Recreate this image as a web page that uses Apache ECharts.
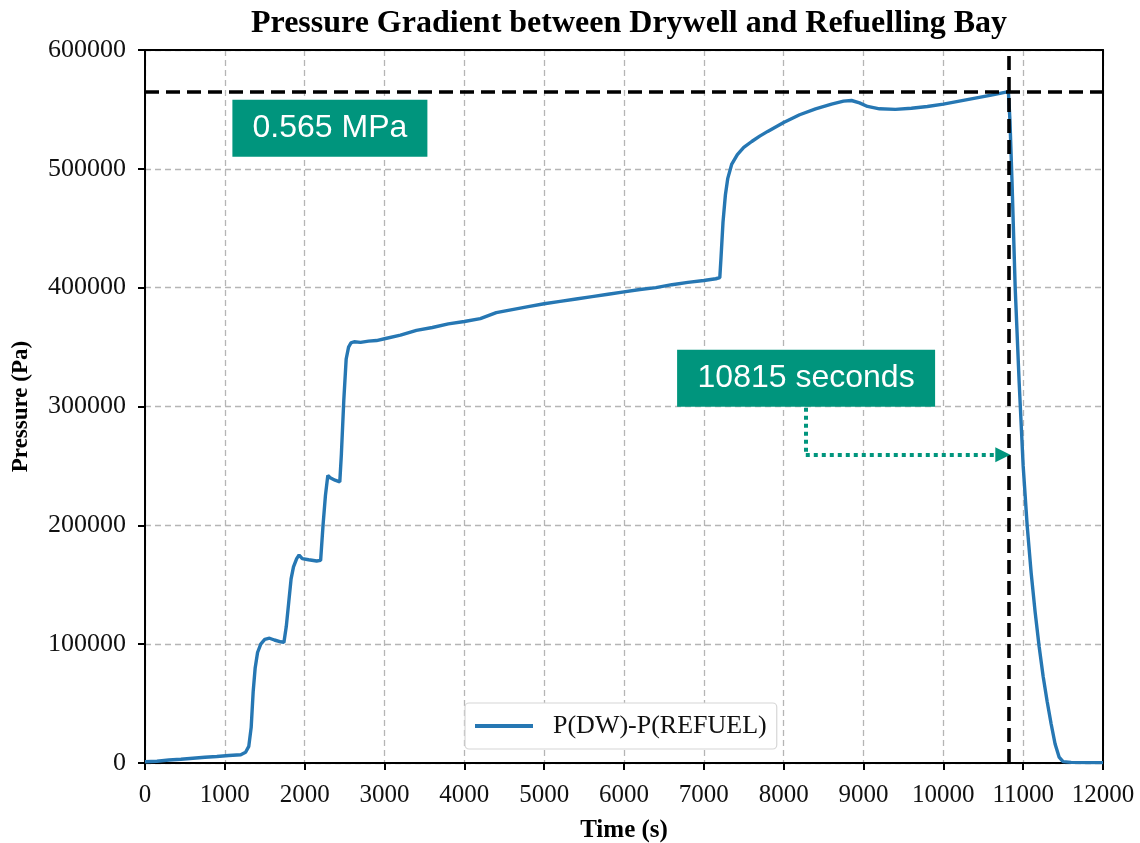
<!DOCTYPE html>
<html>
<head>
<meta charset="utf-8">
<title>Pressure Gradient between Drywell and Refuelling Bay</title>
<script src="https://cdn.jsdelivr.net/npm/echarts@6/dist/echarts.min.js"></script>
<style>
  html, body { margin: 0; padding: 0; background: #fff; }
  #chart { width: 1140px; height: 843px; }
</style>
</head>
<body>
<div id="chart"></div>
<script>
// Time (s) of each sample of the drywell / refuelling bay pressure difference
const timeSec = [
  0, 150, 300, 450, 600, 750, 900, 1050, 1200, 1260, 1300, 1330, 1355, 1380, 1410,
  1450, 1500, 1560, 1620, 1700, 1740, 1770, 1800, 1830, 1860, 1900, 1930, 1970,
  2050, 2150, 2200, 2230, 2260, 2290, 2320, 2380, 2440, 2460, 2490, 2520, 2550,
  2580, 2620, 2700, 2800, 2900, 3000, 3200, 3400, 3600, 3800, 4000, 4200, 4400,
  4600, 4800, 5000, 5200, 5400, 5600, 5800, 6000, 6200, 6400, 6600, 6800, 7000,
  7150, 7200, 7215, 7240, 7270, 7300, 7350, 7420, 7500, 7600, 7700, 7800, 8000,
  8200, 8400, 8600, 8750, 8850, 8950, 9050, 9200, 9400, 9600, 9800, 10000, 10200,
  10400, 10600, 10815, 10835, 10860, 10900, 10950, 11000, 11050, 11100, 11150,
  11200, 11250, 11300, 11350, 11400, 11450, 11500, 11600, 11800, 12000
];

// P(DW) - P(REFUEL) in Pa, one value per entry of timeSec
const pressurePa = [
  1000, 1500, 2500, 3200, 4000, 4800, 5500, 6300, 7000, 9000, 14000, 30000, 60000, 80000, 93000,
  100000, 104000, 105000, 103500, 102000, 101500, 115000, 135000, 155000, 165000, 172000, 175000, 172000,
  171000, 170000, 170500, 200000, 225000, 242000, 240000, 238000, 236500, 260000, 305000, 340000, 350000,
  353500, 354500, 354000, 355000, 355500, 357000, 360000, 364000, 366500, 369500, 371500, 374000, 379000,
  381500, 384000, 386500, 388500, 390500, 392500, 394500, 396500, 398500, 400000, 402500, 404500, 406000,
  407500, 408500, 425000, 455000, 478000, 492000, 504000, 512000, 518000, 523000, 527500, 531500, 539000,
  545500, 550500, 554500, 557000, 557500, 555500, 552500, 550500, 550000, 551000, 552500, 554500, 557000,
  559500, 562000, 565000, 540000, 490000, 400000, 320000, 250000, 200000, 160000, 127000,
  98000, 73000, 52000, 33000, 16000, 5000, 1200, 500, 300, 300
];

// Peak pressure difference and the time it is reached
const peakPressurePa = 565000;
const peakTimeSec = 10815;

// Axis ranges and tick spacing
const xMin = 0, xMax = 12000, xStep = 1000;
const yMin = 0, yMax = 600000, yStep = 100000;

// Callout texts
const peakPressureText = '0.565 MPa';
const peakTimeText = '10815 seconds';
const seriesName = 'P(DW)-P(REFUEL)';

const data = timeSec.map((t, i) => [t, pressurePa[i]]);

const serif = "'Liberation Serif', 'Times New Roman', Times, serif";
const sans = "'Liberation Sans', Arial, Helvetica, sans-serif";
const teal = '#00957d';

const chart = echarts.init(document.getElementById('chart'), null, { renderer: 'canvas' });

const gridLine = { show: true, lineStyle: { color: '#b5b5b5', width: 1.3, type: [6, 4] } };
const plainNumber = v => String(v);
const frameLine = { show: true, onZero: false, lineStyle: { color: '#000', width: 2 } };

chart.setOption({
  backgroundColor: '#ffffff',
  animation: false,
  title: {
    text: 'Pressure Gradient between Drywell and Refuelling Bay',
    left: 624,
    textAlign: 'center',
    top: 3,
    textStyle: { fontFamily: serif, fontWeight: 'bold', fontSize: 32, color: '#000' }
  },
  grid: {
    left: 145, right: 37, top: 50, bottom: 80,
    show: false,
    containLabel: false,
    outerBoundsMode: 'none'
  },
  legend: {
    data: [seriesName],
    left: 465,
    top: 703,
    padding: [10, 10, 10, 10],
    backgroundColor: '#fff',
    borderColor: '#d6d6d6',
    borderWidth: 1.2,
    borderRadius: 4,
    icon: 'rect',
    itemWidth: 58,
    itemHeight: 4,
    textStyle: { fontFamily: serif, fontSize: 26, color: '#111', padding: [0, 0, 0, 15] }
  },
  xAxis: [
    {
      type: 'value',
      position: 'bottom',
      min: xMin, max: xMax, interval: xStep,
      name: 'Time (s)',
      nameLocation: 'middle',
      nameGap: 55,
      nameTextStyle: { fontFamily: serif, fontWeight: 'bold', fontSize: 25, color: '#000' },
      axisLine: frameLine,
      axisTick: { show: true, inside: false, length: 7, lineStyle: { color: '#000', width: 2 } },
      axisLabel: { fontFamily: serif, fontSize: 25, color: '#111', margin: 20, formatter: plainNumber },
      splitLine: gridLine
    },
    {
      // top edge of the plot frame
      type: 'value',
      position: 'top',
      min: xMin, max: xMax, interval: xStep,
      axisLine: frameLine,
      axisTick: { show: false },
      axisLabel: { show: false },
      splitLine: { show: false }
    }
  ],
  yAxis: [
    {
      type: 'value',
      position: 'left',
      min: yMin, max: yMax, interval: yStep,
      name: 'Pressure (Pa)',
      nameLocation: 'middle',
      nameGap: 112,
      nameTextStyle: { fontFamily: serif, fontWeight: 'bold', fontSize: 23, color: '#000' },
      axisLine: frameLine,
      axisTick: { show: true, inside: false, length: 7, lineStyle: { color: '#000', width: 2 } },
      axisLabel: { fontFamily: serif, fontSize: 26, color: '#111', margin: 19, formatter: plainNumber },
      splitLine: gridLine
    },
    {
      // right edge of the plot frame
      type: 'value',
      position: 'right',
      min: yMin, max: yMax, interval: yStep,
      axisLine: frameLine,
      axisTick: { show: false },
      axisLabel: { show: false },
      splitLine: { show: false }
    }
  ],
  series: [
    {
      name: seriesName,
      type: 'line',
      xAxisIndex: 0,
      yAxisIndex: 0,
      data: data,
      showSymbol: false,
      smooth: false,
      color: '#2677b3',
      lineStyle: { color: '#2677b3', width: 3.4 },
      z: 3,
      markLine: {
        silent: true,
        symbol: 'none',
        label: { show: false },
        lineStyle: { color: '#000', width: 3.6, type: [14, 7] },
        data: [{ yAxis: peakPressurePa }, { xAxis: peakTimeSec }],
        z: 4
      }
    },
    {
      // callout boxes and the dotted arrow pointing at the peak time
      name: 'callouts',
      type: 'line',
      xAxisIndex: 0,
      yAxisIndex: 0,
      data: [],
      showSymbol: false,
      markPoint: {
        silent: true,
        z: 6,
        itemStyle: { color: teal },
        label: {
          show: true, position: 'inside', formatter: '{b}',
          fontFamily: sans, fontSize: 32, color: '#fff'
        },
        data: [
          { name: peakPressureText, coord: [2316, 534100], symbol: 'rect', symbolSize: [195, 57] },
          { name: peakTimeText, coord: [8281, 323700], symbol: 'rect', symbolSize: [258, 57] }
        ]
      },
      markLine: {
        silent: true,
        label: { show: false },
        lineStyle: { color: teal, width: 4, type: [4, 4] },
        z: 5,
        data: [
          [
            { coord: [8277, 299000], symbol: 'none' },
            { coord: [8277, 259300], symbol: 'none' }
          ],
          [
            { coord: [8277, 259300], symbol: 'none' },
            { coord: [10745, 259300], symbol: 'triangle', symbolSize: [15, 15] }
          ]
        ]
      }
    }
  ]
});
</script>
</body>
</html>
